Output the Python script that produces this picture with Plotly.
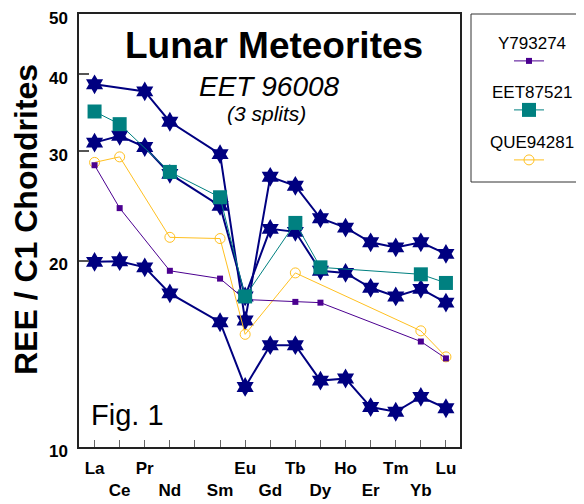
import plotly.graph_objects as go

# Rare earth elements by atomic number (Pm has no label)
z_numbers = [57, 58, 59, 60, 61, 62, 63, 64, 65, 66, 67, 68, 69, 70, 71]
element_labels = ["La", "Ce", "Pr", "Nd", "", "Sm", "Eu", "Gd", "Tb", "Dy", "Ho", "Er", "Tm", "Yb", "Lu"]
lower_row = ["Ce", "Nd", "Sm", "Gd", "Dy", "Er", "Yb"]

# Values (REE / C1 chondrites); None = not measured
eet96008_a = [38.5, None, 37.5, 33.5, None, 29.7, 16.0, 27.3, 26.4, 23.4, 22.6, 21.4, 21.0, 21.4, 20.5]
eet96008_b = [31.0, 31.8, 30.5, 27.6, None, 24.5, 17.5, 22.5, 22.25, 19.25, 19.1, 18.07, 17.5, 18.0, 17.1]
eet96008_c = [19.9, 19.95, 19.5, 17.7, None, 15.9, 12.5, 14.6, 14.6, 12.8, 12.9, 11.6, 11.4, 12.05, 11.55]
y793274 = [28.5, 24.3, None, 19.25, None, 18.7, 17.3, None, 17.15, 17.1, None, None, None, 14.8, 13.9]
eet87521 = [34.8, 33.2, None, 27.8, None, 25.3, 17.5, None, 23.0, 19.5, None, None, None, 19.0, 18.4]
que94281 = [28.8, 29.4, None, 21.8, None, 21.7, 15.2, None, 19.1, None, None, None, None, 15.4, 13.98]

series_names = ["Y793274", "EET87521", "QUE94281"]
y_ticks = [10, 20, 30, 40, 50]

NAVY = "#000080"
TEAL = "#008080"
PURPLE = "#4B0090"
GOLD = "#FFC020"
FONT = "Arial, Liberation Sans, sans-serif"

fig = go.Figure()

for vals in (eet96008_a, eet96008_b, eet96008_c):
    fig.add_trace(go.Scatter(
        x=z_numbers, y=vals, mode="lines+markers", connectgaps=True,
        line=dict(color=NAVY, width=2),
        marker=dict(symbol="hexagram", size=15, color=NAVY, line=dict(width=0)),
        showlegend=False, name="EET 96008"))

fig.add_trace(go.Scatter(
    x=z_numbers, y=que94281, mode="lines+markers", connectgaps=True,
    line=dict(color=GOLD, width=1),
    marker=dict(symbol="circle-open", size=10, color=GOLD, line=dict(width=1)),
    name="", hovertext=series_names[2], legend="legend3"))
fig.add_trace(go.Scatter(
    x=z_numbers, y=y793274, mode="lines+markers", connectgaps=True,
    line=dict(color=PURPLE, width=1),
    marker=dict(symbol="square", size=6, color=PURPLE),
    name="", hovertext=series_names[0], legend="legend"))
fig.add_trace(go.Scatter(
    x=z_numbers, y=eet87521, mode="lines+markers", connectgaps=True,
    line=dict(color=TEAL, width=1),
    marker=dict(symbol="square", size=14, color=TEAL),
    name="", hovertext=series_names[1], legend="legend2"))

# The page adds an 8px body margin, so the figure is 8px smaller and
# positions below are given in reference-image pixels.
OFF = 8
W, H = 584 - OFF, 504 - OFF
L, R, T, B = 79 - OFF, 124, 14 - OFF, 57
pw, ph = W - L - R, H - T - B


def px(xp):
    return (xp - OFF - L) / pw


def py(yp):
    return (H - B - (yp - OFF)) / ph


legend_common = dict(
    xanchor="left", yanchor="middle", bgcolor="rgba(0,0,0,0)", borderwidth=0,
    font=dict(family=FONT, size=16, color="black"), itemwidth=30,
)
fig.update_layout(
    legend=dict(x=px(509), y=py(61), **legend_common),
    legend2=dict(x=px(509), y=py(110), **legend_common),
    legend3=dict(x=px(509), y=py(160), **legend_common),
)

for name, ylab in zip(series_names, (43, 92, 142)):
    fig.add_annotation(text=name, xref="paper", yref="paper",
                       x=px(532), y=py(ylab), showarrow=False,
                       font=dict(family=FONT, size=17, color="black"),
                       xanchor="center", yanchor="middle")

# legend frame
fig.add_shape(type="rect", xref="paper", yref="paper",
              x0=px(471), x1=px(583), y0=py(182), y1=py(14),
              line=dict(color="#333333", width=1), fillcolor="rgba(0,0,0,0)")

fig.update_layout(
    width=W, height=H,
    margin=dict(l=L, r=R, t=T, b=B, autoexpand=False),
    paper_bgcolor="white", plot_bgcolor="white",
    font=dict(family=FONT, color="black"),
    xaxis=dict(
        range=[56.38, 71.56], tickmode="array",
        tickvals=z_numbers,
        ticktext=[("<br>" + e) if e in lower_row else e for e in element_labels],
        tickangle=0,
        ticks="inside", ticklen=7, tickcolor="#666666", tickwidth=1,
        showgrid=False, zeroline=False,
        showline=True, linecolor="#222222", linewidth=1.5, mirror=True,
        tickfont=dict(family=FONT, size=17, weight="bold", color="black"),
        ticklabelstandoff=5, ticklabeloverflow="allow",
    ),
    yaxis=dict(
        type="log", range=[1, 1.69897], tickmode="array",
        tickvals=y_ticks, ticktext=[str(v) for v in y_ticks],
        ticks="inside", ticklen=10, tickcolor="#555555", tickwidth=1.5,
        showgrid=False, zeroline=False,
        showline=True, linecolor="#222222", linewidth=1.5, mirror=True,
        tickfont=dict(family=FONT, size=17, weight="bold", color="black"),
        ticklabelstandoff=6, ticklabelshift=4, ticklabeloverflow="allow",
    ),
    showlegend=True,
)

fig.add_annotation(text="REE / C1 Chondrites", xref="paper", yref="paper",
                   x=px(26), y=py(220), showarrow=False, textangle=-90,
                   font=dict(family=FONT, size=32, weight="bold", color="black"),
                   xanchor="center", yanchor="middle")
fig.add_annotation(text="Lunar Meteorites", xref="paper", yref="paper",
                   x=px(274), y=py(46), showarrow=False,
                   font=dict(family=FONT, size=37, weight="bold", color="black"),
                   xanchor="center", yanchor="middle")
fig.add_annotation(text="<i>EET 96008</i>", xref="paper", yref="paper",
                   x=px(269), y=py(87), showarrow=False,
                   font=dict(family=FONT, size=28, color="black"),
                   xanchor="center", yanchor="middle")
fig.add_annotation(text="<i>(3 splits)</i>", xref="paper", yref="paper",
                   x=px(266), y=py(114), showarrow=False,
                   font=dict(family=FONT, size=21, color="black"),
                   xanchor="center", yanchor="middle")
fig.add_annotation(text="Fig. 1", xref="paper", yref="paper",
                   x=px(89), y=py(415), showarrow=False,
                   font=dict(family=FONT, size=29, color="black"),
                   xanchor="left", yanchor="middle")

fig.write_html("out.html")
